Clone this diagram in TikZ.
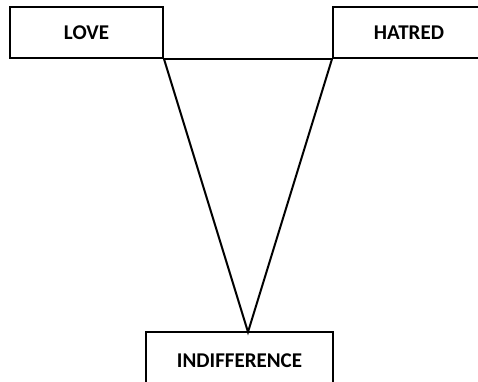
\documentclass[tikz,border=0pt]{standalone}
\usepackage{fontspec}
\setmainfont{Carlito}
\begin{document}
\begin{tikzpicture}[x=1pt,y=1pt,
  box/.style={draw=black,line width=2pt,rectangle,inner sep=0pt,font=\fontsize{21}{25}\selectfont\bfseries},
  link/.style={draw=black,line width=2pt}]
\useasboundingbox (0,0) rectangle (478,-381);
\clip (0,0) rectangle (478,-381);
\node[box,minimum width=153pt,minimum height=51pt] (love) at (86.5,-32.5) {LOVE};
\node[box,minimum width=152pt,minimum height=51pt] (hatred) at (409,-32.5) {HATRED};
\node[box,minimum width=187pt,minimum height=58pt] (indiff) at (239.5,-361) {INDIFFERENCE};
\coordinate (apex) at (248,-332);
\draw[link] (love.south east) -- (hatred.south west);
\draw[link,line join=miter] (love.south east) -- (apex) -- (hatred.south west);
\end{tikzpicture}
\end{document}
